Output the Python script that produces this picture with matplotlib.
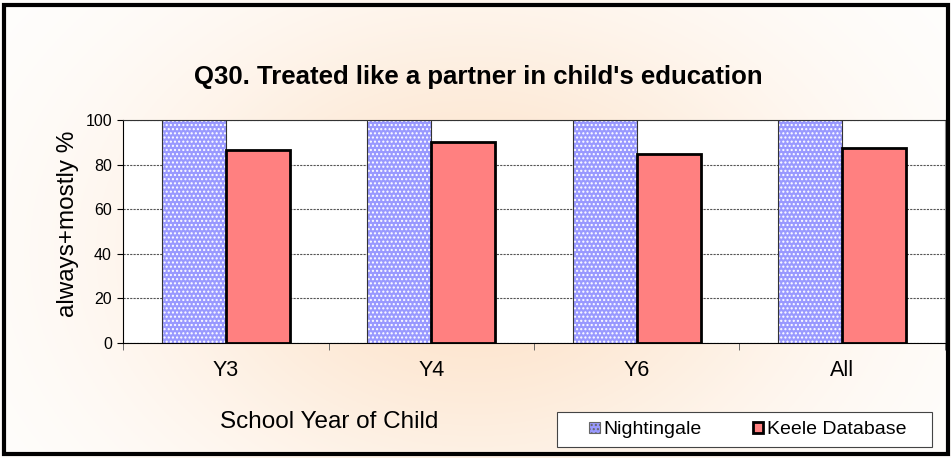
import numpy as np
import matplotlib
matplotlib.use("Agg")
import matplotlib.pyplot as plt
from matplotlib.patches import Rectangle, Patch

plt.rcParams['font.family'] = ['Liberation Sans', 'DejaVu Sans']
plt.rcParams['hatch.linewidth'] = 1.0

# data
categories = ['Y3', 'Y4', 'Y6', 'All']
nightingale = [100, 100, 100, 100]
keele = [86.5, 90.1, 84.6, 87.6]
yticks = [0, 20, 40, 60, 80, 100]

W, H = 951, 458
fig = plt.figure(figsize=(W / 100, H / 100), dpi=100)

# soft peach glow behind the chart
bg = fig.add_axes([0, 0, 1, 1], zorder=-10)
xx, yy = np.meshgrid(np.linspace(0, 1, 400), np.linspace(0, 1, 200))
w = np.exp(-(((xx - 0.5) / 0.36) ** 2) - (((yy - 0.55) / 0.55) ** 2))
w = np.clip(w * 1.1, 0, 1)
peach = np.array([253, 230, 208]) / 255.0
img = 1 - w[..., None] * (1 - peach)
bg.imshow(img, extent=[0, 1, 0, 1], aspect='auto', origin='upper')
bg.set_xlim(0, 1)
bg.set_ylim(0, 1)
bg.axis('off')

# outer frame
fig.patches.append(Rectangle((4 / W, 4 / H), 944 / W, 449 / H, transform=fig.transFigure,
                             fill=False, edgecolor='black', linewidth=3, zorder=5))

ax = fig.add_axes([123 / W, 1 - 343 / H, 822 / W, 223 / H])
ax.set_facecolor('white')

x = np.arange(len(categories))
bw = 0.311
ax.bar(x - bw / 2, nightingale, bw, color='#9999ff', edgecolor='none', zorder=2)
ax.bar(x - bw / 2, nightingale, bw, color='none', edgecolor='white', hatch='....', linewidth=0, zorder=3)
ax.bar(x - bw / 2, nightingale, bw, color='none', edgecolor='#333333', linewidth=0.8, zorder=4)
ax.bar(x + bw / 2, keele, bw, color='#ff8080', edgecolor='black', linewidth=2, zorder=4)

ax.set_xlim(-0.5, len(categories) - 0.5)
ax.set_ylim(0, 100)
ax.set_yticks(yticks)
ax.set_yticklabels([str(v) for v in yticks], fontsize=11.5)
ax.yaxis.grid(True, color='#555555', linestyle=(0, (2, 1)), linewidth=0.8)
ax.set_axisbelow(True)

ax.set_xticks(x)
ax.set_xticklabels(categories, fontsize=15.5)
ax.set_xticks(np.arange(len(categories) + 1) - 0.5, minor=True)
ax.tick_params(axis='x', which='major', length=0, pad=12)
ax.tick_params(axis='x', which='minor', length=5, color='#555555')
ax.tick_params(axis='y', length=4, pad=4)

ax.spines['left'].set_color('black')
ax.spines['bottom'].set_color('black')
ax.spines['top'].set_color('#333333')
ax.spines['right'].set_color('#999999')

fig.text(68 / W, 1 - 224 / H, 'always+mostly %', rotation=90, ha='center', va='center',
         fontsize=17.5)

fig.text(478 / W, 1 - 77 / H, "Q30. Treated like a partner in child's education",
         ha='center', va='center', fontsize=18.5, fontweight='bold')
fig.text(329 / W, 1 - 422 / H, 'School Year of Child', ha='center', va='center', fontsize=17.5)

# legend box drawn by hand, entries placed by legend
fig.patches.append(Rectangle((557 / W, 1 - 447 / H), 375 / W, 35 / H, transform=fig.transFigure,
                             facecolor='white', edgecolor='#444444', linewidth=0.8, zorder=3))
h1 = Patch(facecolor='#9999ff', edgecolor='#666666', hatch='....', linewidth=0.8)
h2 = Patch(facecolor='#ff8080', edgecolor='black', linewidth=2)
leg = fig.legend([h1, h2], ['Nightingale', 'Keele Database'], loc='center',
                 bbox_to_anchor=(748 / W, 1 - 430 / H), ncol=2, fontsize=14,
                 frameon=False, handlelength=0.55, handleheight=0.55, handletextpad=0.2,
                 columnspacing=2.6, borderpad=0.3)
leg.set_zorder(6)

fig.savefig('out.png', dpi=100)
